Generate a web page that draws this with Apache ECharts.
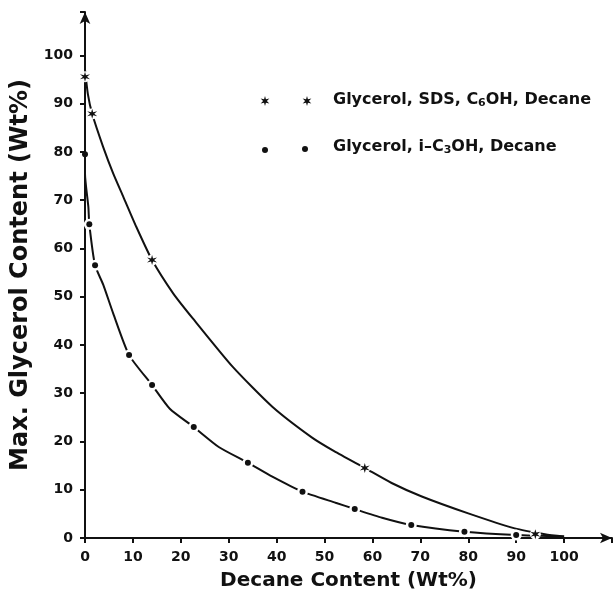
<!DOCTYPE html>
<html>
<head>
<meta charset="utf-8">
<script src="https://cdn.jsdelivr.net/npm/echarts@6/dist/echarts.min.js"></script>
<style>
  html, body { margin: 0; padding: 0; background: #fff; }
  #main { width: 613px; height: 595px; }
</style>
</head>
<body>
<div id="main"></div>
<script>
// ticks
var xTicks = [0, 10, 20, 30, 40, 50, 60, 70, 80, 90, 100];
var yTicks = [0, 10, 20, 30, 40, 50, 60, 70, 80, 90, 100];

// Glycerol, SDS, C6OH, Decane  (stars)
var sdsPoints = [[0, 95.6], [1.5, 87.9], [14, 57.6], [58.4, 14.5], [94, 0.8]];
// curve
var sdsCurve = [[0, 97], [0.6, 92], [1.5, 87.9], [3.8, 81], [5.9, 75.5], [8, 70.7], [10.7, 64.5],
  [14, 57.6], [18.4, 50.7], [22.5, 45.5], [30.8, 35.5], [39.1, 27.2], [47.4, 20.8], [52, 18],
  [58.4, 14.5], [64, 11.4], [70.3, 8.6], [80, 5.1], [89.7, 2.0], [96, 0.8], [100, 0.3]];

// Glycerol, i-C3OH, Decane  (dots)
var ipaPoints = [[0, 79.5], [0.9, 65], [2.1, 56.5], [9.2, 37.9], [14, 31.7], [22.7, 23],
  [34, 15.6], [45.4, 9.6], [56.3, 6.0], [68.1, 2.7], [79.2, 1.3], [90, 0.6]];
var ipaCurve = [[0, 97], [0, 88], [0, 79.5], [0, 75.5], [0.7, 68.6], [0.9, 65], [2.1, 56.5], [3.8, 52.5],
  [5.9, 46.5], [9.2, 37.9], [14, 31.7], [17.7, 26.8], [22.7, 23], [28, 18.8], [34, 15.6], [39.1, 12.7],
  [45.4, 9.6], [52.3, 7.3], [56.3, 6.0], [62, 4.2], [68.1, 2.7], [79.2, 1.3], [90, 0.6], [100, 0.3]];

var starPath = 'path://M0,-10 L1.75,-3.03 L8.66,-5 L3.5,0 L8.66,5 L1.75,3.03 L0,10 L-1.75,3.03 L-8.66,5 L-3.5,0 L-8.66,-5 L-1.75,-3.03 Z';
var font = '"DejaVu Sans", "Liberation Sans", sans-serif';
var ink = '#111';

// star outline for the legend icons
function starPoints(cx, cy, r) {
  var pts = [];
  for (var i = 0; i < 12; i++) {
    var a = -Math.PI / 2 + i * Math.PI / 6;
    var rr = i % 2 === 0 ? r : r * 0.38;
    pts.push([cx + rr * Math.cos(a), cy + rr * Math.sin(a)]);
  }
  return pts;
}

var chart = echarts.init(document.getElementById('main'));
chart.setOption({
  animation: false,
  backgroundColor: '#fff',
  grid: { left: 85, right: 1, top: 12, bottom: 57, outerBoundsMode: 'none', containLabel: false },
  xAxis: {
    type: 'value', min: 0, max: 110, interval: 10,
    name: 'Decane Content (Wt%)', nameLocation: 'middle', nameGap: 33,
    nameTextStyle: { fontFamily: font, fontWeight: 'bold', fontSize: 20, color: ink },
    axisLine: { lineStyle: { color: ink, width: 2 }, symbol: ['none', 'arrow'], symbolSize: [8, 12] },
    axisTick: { length: 5, lineStyle: { color: ink, width: 2 } },
    axisLabel: {
      fontFamily: font, fontWeight: 'bold', fontSize: 14, color: ink, margin: 12,
      formatter: function (v) { return xTicks.indexOf(v) >= 0 ? String(v) : ''; }
    },
    splitLine: { show: false }
  },
  yAxis: {
    type: 'value', min: 0, max: 109, interval: 10,
    name: 'Max. Glycerol Content (Wt%)', nameLocation: 'middle', nameGap: 51,
    nameTextStyle: { fontFamily: font, fontWeight: 'bold', fontSize: 24, color: ink },
    axisLine: { lineStyle: { color: ink, width: 2 }, symbol: ['none', 'arrow'], symbolSize: [8, 12] },
    axisTick: { length: 5, lineStyle: { color: ink, width: 2 } },
    axisLabel: {
      fontFamily: font, fontWeight: 'bold', fontSize: 14, color: ink, margin: 12,
      formatter: function (v) { return yTicks.indexOf(v) >= 0 ? String(v) : ''; }
    },
    splitLine: { show: false }
  },
  series: [
    {
      name: 'sdsCurve', type: 'line', data: sdsCurve, smooth: 0.2, symbol: 'none', z: 2,
      lineStyle: { color: ink, width: 2 }
    },
    {
      name: 'ipaCurve', type: 'line', data: ipaCurve, smooth: 0.2, symbol: 'none', z: 2,
      lineStyle: { color: ink, width: 2 }
    },
    {
      // white gaps around markers
      type: 'scatter', data: sdsPoints.concat(ipaPoints.slice(1)), symbol: 'circle', symbolSize: 11, z: 3,
      itemStyle: { color: '#fff', opacity: 1 }, silent: true
    },
    {
      name: 'Glycerol, SDS, C6OH, Decane', type: 'scatter', data: sdsPoints, symbol: starPath,
      symbolSize: 10, z: 4, itemStyle: { color: ink, opacity: 1 }
    },
    {
      name: 'Glycerol, i-C3OH, Decane', type: 'scatter', data: ipaPoints, symbol: 'circle',
      symbolSize: 6, z: 4, itemStyle: { color: ink, opacity: 1 }
    }
  ],
  graphic: [
    { type: 'polygon', shape: { points: starPoints(265, 101, 5) }, style: { fill: ink } },
    { type: 'polygon', shape: { points: starPoints(307, 101, 5) }, style: { fill: ink } },
    { type: 'circle', shape: { cx: 265, cy: 150, r: 3 }, style: { fill: ink } },
    { type: 'circle', shape: { cx: 305, cy: 149, r: 3 }, style: { fill: ink } },
    {
      type: 'text', x: 333, y: 100,
      style: {
        text: 'Glycerol, SDS, C{sub|6}OH, Decane', fill: ink, verticalAlign: 'middle',
        font: 'bold 16px ' + font,
        rich: { sub: { fontSize: 11, fontWeight: 'bold', fontFamily: font, padding: [6, 0, 0, 0], fill: ink } }
      }
    },
    {
      type: 'text', x: 333, y: 147,
      style: {
        text: 'Glycerol, i\u2013C{sub|3}OH, Decane', fill: ink, verticalAlign: 'middle',
        font: 'bold 16px ' + font,
        rich: { sub: { fontSize: 11, fontWeight: 'bold', fontFamily: font, padding: [6, 0, 0, 0], fill: ink } }
      }
    }
  ]
});
</script>
</body>
</html>
